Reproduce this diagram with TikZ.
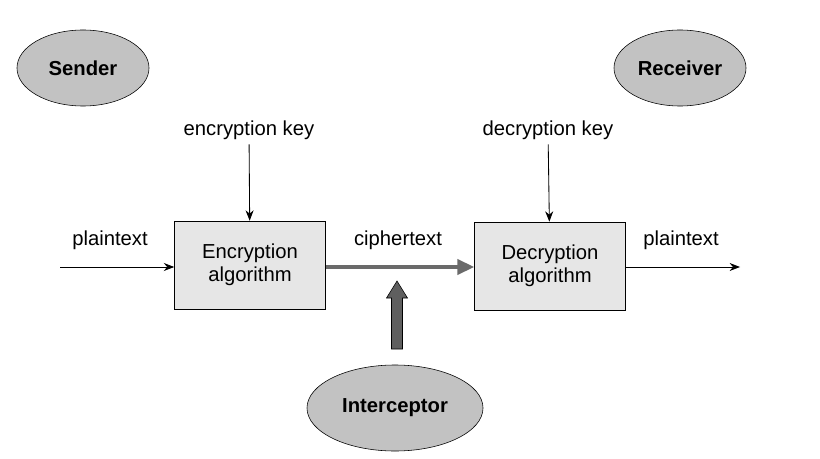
\documentclass[tikz,border=0pt]{standalone}
\usepackage{fontspec}
\setmainfont{Liberation Sans}
\usetikzlibrary{arrows.meta,positioning,shapes.geometric}
\definecolor{partyfill}{HTML}{C2C2C2}
\definecolor{algofill}{HTML}{E6E6E6}
\definecolor{wire}{HTML}{6A6A6A}
\begin{document}
\begin{tikzpicture}[x=0.025cm, y=-0.025cm,
      party/.style={ellipse, draw, thin, fill=partyfill, font=\fontsize{14.4}{17}\selectfont\bfseries,
        minimum width=3.3cm, minimum height=1.9cm, inner sep=0pt},
      algo/.style={rectangle, draw, thin, fill=algofill, align=center,
        font=\fontsize{14.4}{16}\selectfont, minimum width=3.775cm, minimum height=2.2cm},
      lbl/.style={font=\fontsize{14.4}{17}\selectfont},
      msg/.style={-{Stealth[length=2.6mm, width=2mm]}, semithick},
      cipher/.style={-{Triangle[length=4.2mm, width=3.8mm]}, line width=2.2pt, draw=wire},
      tap/.style={draw, thin, fill=wire!90!black},
    ]
    \useasboundingbox (0,0) rectangle (820,459);

    % Parties
    \node[party] (sender) at (83, 68) {Sender};
    \node[party] (receiver) at (680, 68) {Receiver};
    \node[party, minimum width=4.4cm, minimum height=2.15cm] (icpt) at (395, 408) {Interceptor};

    % Algorithms
    \node[algo] (enc) at (250, 265) {Encryption\\algorithm};
    \node[algo] (dec) at (550, 266) {Decryption\\algorithm};

    % Keys
    \node[lbl] (enckey) at (249, 130) {encryption key};
    \node[lbl] (deckey) at (548, 130) {decryption key};
    \draw[msg] (enckey) -- (enc);
    \draw[msg] (deckey) -- (dec);

    % Message flow
    \coordinate (src) at (60, 267);
    \coordinate (dst) at (740, 267);
    \node[lbl] (ptin) at (110, 240) {plaintext};
    \node[lbl] (ctext) at (398, 240) {ciphertext};
    \node[lbl] (ptout) at (681, 240) {plaintext};
    \draw[msg] (src) -- (src -| enc.west);
    \draw[cipher] (enc.east |- src) -- (dec.west |- src);
    \draw[msg] (dec.east |- dst) -- (dst);

    % Interception
    \draw[tap] (391.5, 349) -- (391.5, 298) -- (386.5, 298) -- (397, 281)
      -- (407.5, 298) -- (402.5, 298) -- (402.5, 349) -- cycle;
  \end{tikzpicture}
\end{document}
